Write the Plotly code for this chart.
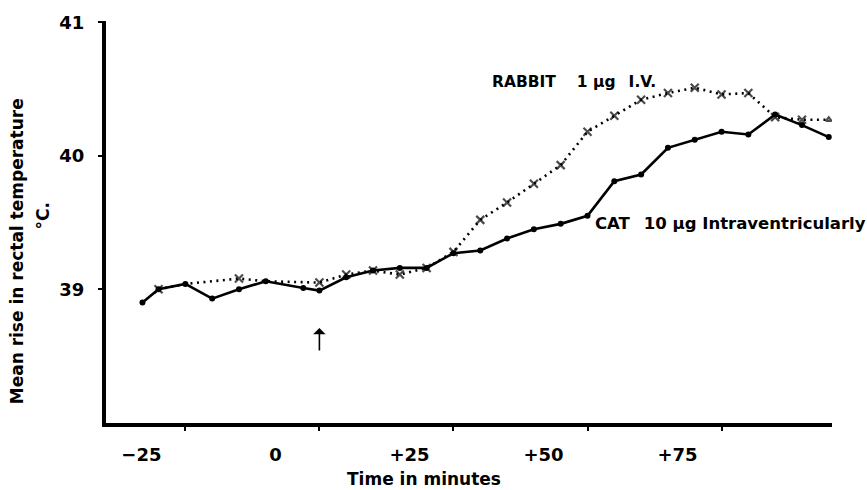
import plotly.graph_objects as go

# ---- data (time in minutes, temperature in °C) ----
cat_time = [-33, -30, -25, -20, -15, -10, -3, 0, 5, 10, 15, 20, 25, 30, 35, 40,
            45, 50, 55, 60, 65, 70, 75, 80, 85, 90, 95]
cat_temp = [38.90, 39.00, 39.04, 38.93, 39.00, 39.06, 39.01, 38.99, 39.09, 39.14,
            39.16, 39.16, 39.27, 39.29, 39.38, 39.45, 39.49, 39.55, 39.81, 39.86,
            40.06, 40.12, 40.18, 40.16, 40.31, 40.23, 40.14]

rabbit_time = [-30, -25, -15, -10, 0, 5, 10, 15, 20, 25, 30, 35, 40, 45, 50, 55,
               60, 65, 70, 75, 80, 85, 90, 95]
rabbit_temp = [39.00, 39.04, 39.08, 39.06, 39.05, 39.11, 39.14, 39.11, 39.16, 39.28,
               39.52, 39.65, 39.79, 39.93, 40.18, 40.30, 40.42, 40.47, 40.51, 40.46,
               40.47, 40.29, 40.27, 40.27]

x_tick_vals = [-25, 0, 25, 50, 75]
x_tick_text = ["\u221225", "0", "+25", "+50", "+75"]
y_tick_vals = [39, 40, 41]
y_tick_text = ["39", "40", "41"]

injection_time = 0
rabbit_label = "RABBIT\u2003 1 \u03bcg\u2002 I.V."
cat_label = "CAT\u2002 10 \u03bcg Intraventricularly"

FONT = "DejaVu Sans"
W = "bold"

# marker styling (shared points with the CAT curve carry no separate cross)
shared = {-25, -10}
r_sizes = [0 if t in shared else 8 for t in rabbit_time]
r_symbols = ["x-thin" for _ in rabbit_time]
r_symbols[-1] = "triangle-up-open"
r_sizes[-1] = 5

fig = go.Figure()
# rabbit: dotted line, then its cross markers as a separate layer
fig.add_trace(go.Scatter(
    x=rabbit_time, y=rabbit_temp, mode="lines",
    line=dict(color="black", width=2.6, dash="2px,4.5px"),
    showlegend=False, hoverinfo="skip"))
fig.add_trace(go.Scatter(
    x=rabbit_time, y=rabbit_temp, mode="markers",
    marker=dict(symbol=r_symbols, size=r_sizes, color="black",
                line=dict(color="black", width=2.2)),
    showlegend=False, hoverinfo="skip"))
fig.add_trace(go.Scatter(
    x=cat_time, y=cat_temp, mode="lines+markers",
    line=dict(color="black", width=2.6),
    marker=dict(symbol="circle", size=6, color="black"),
    showlegend=False, hoverinfo="skip"))

# injection arrow
fig.add_annotation(x=injection_time, y=38.71, ax=injection_time, ay=38.53,
                   xref="x", yref="y", axref="x", ayref="y", text="",
                   showarrow=True, arrowhead=1, arrowsize=1.3, arrowwidth=1.6,
                   arrowcolor="black", standoff=0)

fig.add_annotation(x=31.8, y=40.55, xref="x", yref="y", text=rabbit_label,
                   showarrow=False, xanchor="left", yanchor="middle",
                   font=dict(family=FONT, size=15.5, color="black", weight=W))
fig.add_annotation(x=51.0, y=39.49, xref="x", yref="y", text=cat_label,
                   showarrow=False, xanchor="left", yanchor="middle",
                   font=dict(family=FONT, size=16.5, color="black", weight=W))

# axis titles
fig.add_annotation(x=(17 - 106) / 726, y=(423 - 250) / 405, xref="paper", yref="paper",
                   text="Mean rise in rectal temperature", textangle=-90,
                   showarrow=False, xanchor="center", yanchor="middle",
                   font=dict(family=FONT, size=17, color="black", weight=W))
fig.add_annotation(x=(43 - 106) / 726, y=(423 - 215) / 405, xref="paper", yref="paper",
                   text="\u00b0C.", textangle=-90,
                   showarrow=False, xanchor="center", yanchor="middle",
                   font=dict(family=FONT, size=17, color="black", weight=W))
fig.add_annotation(x=19.5, y=(423 - 479) / 405, xref="x", yref="paper",
                   text="Time in minutes", showarrow=False,
                   xanchor="center", yanchor="middle",
                   font=dict(family=FONT, size=17, color="black", weight=W))

fig.update_layout(
    width=867, height=490,
    margin=dict(l=106, r=35, t=18, b=67),
    paper_bgcolor="white", plot_bgcolor="white",
    xaxis=dict(range=[-39.8, 95.6], tickvals=x_tick_vals, ticktext=x_tick_text,
               showgrid=False, zeroline=False, showline=True, linecolor="black",
               linewidth=4, ticks="outside", ticklen=4, tickwidth=2, tickcolor="black",
               ticklabelshift=-44, ticklabelstandoff=8,
               tickfont=dict(family=FONT, size=18, color="black", weight=W)),
    yaxis=dict(range=[37.998, 41.01], tickvals=y_tick_vals, ticktext=y_tick_text,
               showgrid=False, zeroline=False, showline=True, linecolor="black",
               linewidth=4, ticks="outside", ticklen=4, tickwidth=2, tickcolor="black",
               ticklabelstandoff=10,
               tickfont=dict(family=FONT, size=18, color="black", weight=W)),
)

fig.write_html("out.html")
